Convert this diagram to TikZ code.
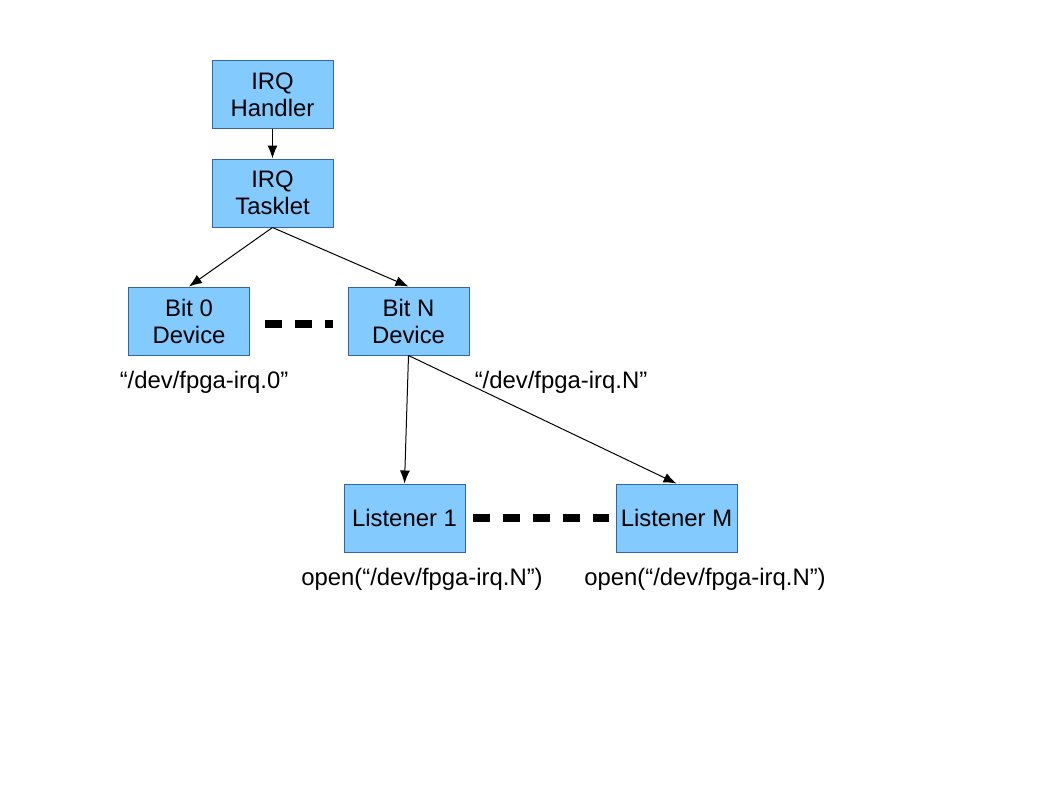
\documentclass[tikz,border=0pt]{standalone}
\usepackage{fontspec}
\usetikzlibrary{arrows.meta}
\setmainfont{Liberation Sans}
\definecolor{boxfill}{HTML}{83CAFF}
\definecolor{boxline}{HTML}{3465A4}
\begin{document}
\begin{tikzpicture}[
x=0.75pt,y=-0.75pt,
box/.style={
draw=boxline,
fill=boxfill,
line width=0.75pt,
align=center,
minimum width=90.75pt,
minimum height=51pt,
inner sep=0pt,
font=\fontsize{17.9}{20.3}\selectfont
},
lbl/.style={
align=center,
inner sep=0pt,
font=\fontsize{17.9}{20.3}\selectfont
},
link/.style={
-{Latex[length=9.75pt,width=7.5pt]},
line width=0.75pt
},
dots/.style={
line width=6pt,
dash pattern=on 12.75pt off 9.75pt
}
]

\useasboundingbox (0,0) rectangle (1058,794);

\node[box] (H) at (272.5,94.5)
{IRQ\\Handler};

\node[box] (T) at (272.5,193)
{IRQ\\Tasklet};

\node[box] (B0) at (189,321)
{Bit 0\\Device};

\node[box] (BN) at (408.5,321)
{Bit N\\Device};

\node[box] (L1) at (404.5,518)
{Listener 1};

\node[box] (LM) at (676.5,518)
{Listener M};

\node[lbl] (d0) at (204,382)
{“/dev/fpga-irq.0”};

\node[lbl] (dN) at (561,382)
{“/dev/fpga-irq.N”};

\node[lbl] (o1) at (422,579)
{open(“/dev/fpga-irq.N”)};

\node[lbl] (oM) at (705,579)
{open(“/dev/fpga-irq.N”)};

\draw[link] (H) -- (T);
\draw[link] (T.south) -- (B0.north);
\draw[link] (T.south) -- (BN.north);
\draw[link] (BN.south) -- (L1.north);
\draw[link] (BN.south) -- (LM.north);

\draw[dots,shorten <=11.25pt,shorten >=11.25pt] ([yshift=-2.25pt]B0.east) -- ([yshift=-2.25pt]BN.west);
\draw[dots,shorten <=5.25pt,shorten >=5.25pt] (L1.east) -- (LM.west);

\end{tikzpicture}
\end{document}
